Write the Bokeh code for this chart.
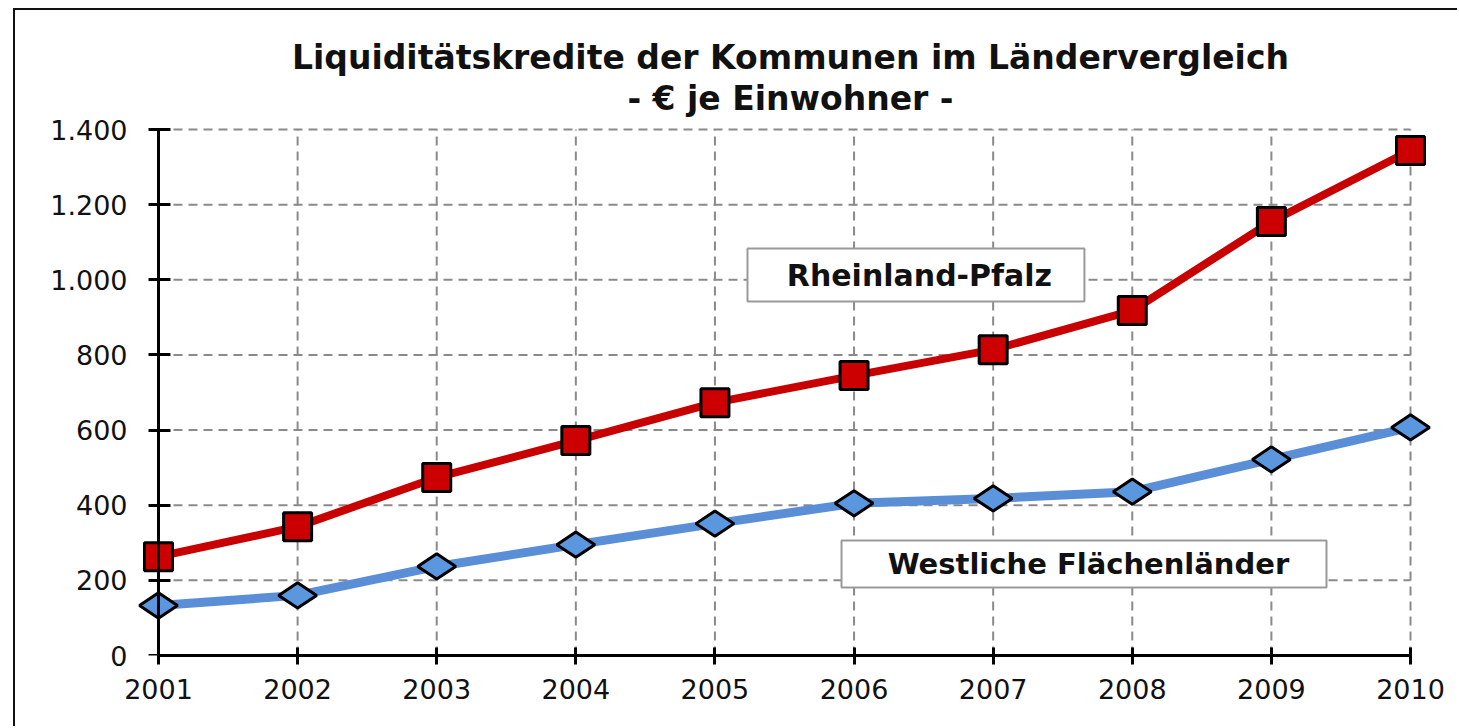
import numpy as np
from bokeh.plotting import figure
from bokeh.models import (Range1d, FixedTicker, Label, BoxAnnotation, ColumnDataSource,
                          LinearAxis)
from bokeh.embed import file_html
from bokeh.resources import INLINE

# ---- data ----
years = [2001, 2002, 2003, 2004, 2005, 2006, 2007, 2008, 2009, 2010]
rheinland_pfalz = [263, 343, 474, 572, 673, 745, 814, 918, 1155, 1344]
westliche_flaechenlaender = [133, 160, 237, 295, 351, 405, 418, 436, 522, 607]
y_ticks = [0, 200, 400, 600, 800, 1000, 1200, 1400]
y_tick_labels = ["0", "200", "400", "600", "800", "1.000", "1.200", "1.400"]
x_tick_labels = [str(y) for y in years]
title_line1 = "Liquiditätskredite der Kommunen im Ländervergleich"
title_line2 = "- € je Einwohner -"
label_rp = "Rheinland-Pfalz"
label_wf = "Westliche Flächenländer"

FONT = "DejaVu Sans"
Y_MAX = y_ticks[-1]
PAD = 22 / (1252 / 9)            # room so edge markers are not clipped
Y_TOP = Y_MAX * 641 / 526        # frame extends above the value axis to host the title

p = figure(width=1444, height=718, output_backend="svg", toolbar_location=None,
           x_range=Range1d(years[0] - PAD, years[-1] + PAD), y_range=Range1d(0, Y_TOP),
           min_border_left=121, min_border_right=27, min_border_top=4, min_border_bottom=73,
           background_fill_color="white", border_fill_color="white",
           styles={"margin-left": "13px", "margin-top": "8px",
                   "border-left": "2px solid #111", "border-top": "2px solid #111"})
p.outline_line_color = None
p.grid.visible = False

# grid lines bounded to the value area
GRID = dict(line_color="#8a8a8a", line_width=2, line_dash="9 6", level="underlay")
p.segment(x0=[years[0]] * len(y_ticks), x1=[years[-1]] * len(y_ticks), y0=y_ticks, y1=y_ticks,
          **GRID)
p.segment(x0=years, x1=years, y0=[0] * len(years), y1=[Y_MAX] * len(years), **GRID)

# x axis
p.xaxis.ticker = FixedTicker(ticks=years)
p.xaxis.bounds = (years[0], years[-1])
p.xaxis.major_label_overrides = {y: l for y, l in zip(years, x_tick_labels)}
p.xaxis.axis_line_color = "black"
p.xaxis.axis_line_width = 3
p.xaxis.major_tick_line_color = "black"
p.xaxis.major_tick_line_width = 3
p.xaxis.minor_tick_line_color = None
p.xaxis.major_label_text_font = FONT
p.xaxis.major_label_text_font_size = "27px"
p.xaxis.major_label_text_color = "#111"
p.xaxis.major_tick_in = 8
p.xaxis.major_tick_out = 9
p.xaxis.major_label_standoff = 14

# y axis: labels at the frame edge, line + ticks at the first year
yl = p.yaxis[0]
yl.ticker = FixedTicker(ticks=y_ticks)
yl.major_label_overrides = {t_: l for t_, l in zip(y_ticks, y_tick_labels)}
yl.axis_line_color = None
yl.major_tick_line_color = None
yl.minor_tick_line_color = None
yl.major_tick_in = 0
yl.major_tick_out = 0
yl.major_label_standoff = 9
yl.major_label_text_font = FONT
yl.major_label_text_font_size = "27px"
yl.major_label_text_color = "#111"

ya = LinearAxis(ticker=FixedTicker(ticks=y_ticks), fixed_location=years[0],
                bounds=(0, Y_MAX),
                major_label_overrides={t_: "" for t_ in y_ticks},
                axis_line_color="black", axis_line_width=3,
                major_tick_line_color="black", major_tick_line_width=3,
                minor_tick_line_color=None, major_tick_in=12, major_tick_out=10,
                major_label_standoff=0, major_label_text_font_size="1px")
p.add_layout(ya, "left")

src = ColumnDataSource(dict(x=years, rp=rheinland_pfalz, wf=westliche_flaechenlaender))

# Westliche Flächenländer
p.line("x", "wf", source=src, line_color="#5a8fd8", line_width=9)
p.scatter("x", "wf", source=src, marker="diamond", size=38, angle=np.pi / 2,
          fill_color="#5b97de", line_color="black", line_width=3)

# Rheinland-Pfalz
p.line("x", "rp", source=src, line_color="#c80000", line_width=8)
p.scatter("x", "rp", source=src, marker="square", size=28,
          fill_color="#cc0000", line_color="black", line_width=3)

# label boxes
p.add_layout(BoxAnnotation(left=2005.234, right=2007.656, bottom=942, top=1083,
                           fill_color="white", fill_alpha=1.0,
                           line_color="#9a9a9a", line_alpha=1.0, line_width=2, level="overlay"))
p.add_layout(Label(x=2006.47, y=1012, text=label_rp, text_align="center",
                   text_baseline="middle", text_font=FONT, text_font_style="bold",
                   text_font_size="30px", text_color="#111", level="overlay"))
p.add_layout(BoxAnnotation(left=2005.91, right=2009.396, bottom=181, top=306,
                           fill_color="white", fill_alpha=1.0,
                           line_color="#9a9a9a", line_alpha=1.0, line_width=2, level="overlay"))
p.add_layout(Label(x=2007.685, y=243, text=label_wf, text_align="center",
                   text_baseline="middle", text_font=FONT, text_font_style="bold",
                   text_font_size="29px", text_color="#111", level="overlay"))

# title (two centred lines above the value area)
p.add_layout(Label(x=2005.543, y=1591, text=title_line1, text_align="center",
                   text_baseline="alphabetic", text_font=FONT, text_font_style="bold",
                   text_font_size="33px", text_color="#111"))
p.add_layout(Label(x=2005.543, y=1482, text=title_line2, text_align="center",
                   text_baseline="alphabetic", text_font=FONT, text_font_style="bold",
                   text_font_size="33px", text_color="#111"))

open("out.html", "w").write(file_html(p, INLINE))
